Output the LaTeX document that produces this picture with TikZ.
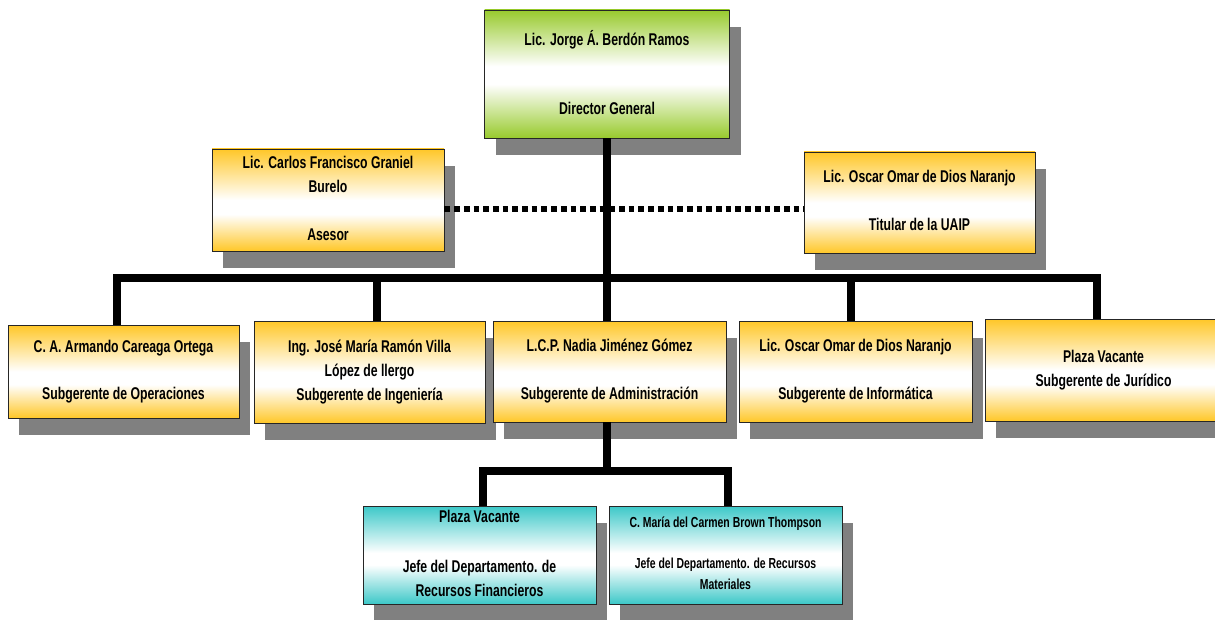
\documentclass[tikz,border=0pt]{standalone}
\usepackage{fontspec}
\setmainfont{Liberation Sans}[FakeStretch=0.72]
\usepackage{tikz}
\usetikzlibrary{shadows}
\definecolor{orgyellow}{RGB}{255,199,40}
\definecolor{orggreen}{RGB}{152,202,45}
\definecolor{orgteal}{RGB}{60,200,200}
\pgfdeclareverticalshading{yellowfade}{100bp}{color(0bp)=(orgyellow); color(25bp)=(orgyellow); color(43bp)=(white); color(50bp)=(white); color(75bp)=(orgyellow); color(100bp)=(orgyellow)}
\pgfdeclareverticalshading{greenfade}{100bp}{color(0bp)=(orggreen); color(25bp)=(orggreen); color(46bp)=(white); color(53bp)=(white); color(75bp)=(orggreen); color(100bp)=(orggreen)}
\pgfdeclareverticalshading{tealfade}{100bp}{color(0bp)=(orgteal); color(25bp)=(orgteal); color(45bp)=(white); color(51bp)=(white); color(75bp)=(orgteal); color(100bp)=(orgteal)}
\tikzset{
    orgbox/.style={draw=black!85, line width=0.8pt, inner sep=0pt, align=center,
        font=\bfseries\fontsize{17}{24}\selectfont, shading=yellowfade,
        drop shadow={shadow xshift=11pt, shadow yshift=-17pt, fill=black!50, opacity=1},
        execute at begin node={\rule[-4pt]{0pt}{17pt}},
        execute at end node={\rule[-4pt]{0pt}{17pt}}},
    link/.style={line width=7.5pt, line join=miter},
    dotline/.style={line width=6.5pt, dash pattern=on 5.7pt off 4pt}
}
\begin{document}
\begin{tikzpicture}[x=1pt, y=-1pt]
    \useasboundingbox (0, 0) rectangle (1215, 620);
    \node[orgbox, shading=greenfade, minimum width=245pt, minimum height=128pt] (dir) at (607, 74)
        {Lic. Jorge Á. Berdón Ramos\\[45pt]Director General};
    \node[orgbox, minimum width=232pt, minimum height=102pt] (ase) at (328, 200)
        {Lic. Carlos Francisco Graniel\\Burelo\\[24pt]Asesor};
    \node[orgbox, minimum width=231pt, minimum height=101pt] (uaip) at (919.5, 202.5)
        {Lic. Oscar Omar de Dios Naranjo\\[24pt]Titular de la UAIP};
    \node[orgbox, minimum width=231pt, minimum height=93pt] (ope) at (123.5, 371.5)
        {C. A. Armando Careaga Ortega\\[23pt]Subgerente de Operaciones};
    \node[orgbox, minimum width=231pt, minimum height=102pt] (ing) at (369.5, 372)
        {Ing. José María Ramón Villa\\López de llergo\\Subgerente de Ingeniería};
    \node[orgbox, minimum width=233pt, minimum height=101pt] (adm) at (609.5, 371.5)
        {L.C.P. Nadia Jiménez Gómez\\[24pt]Subgerente de Administración};
    \node[orgbox, minimum width=233pt, minimum height=101pt] (inf) at (855.5, 371.5)
        {Lic. Oscar Omar de Dios Naranjo\\[24pt]Subgerente de Informática};
    \node[orgbox, minimum width=237pt, minimum height=102pt] (jur) at (1103.5, 370)
        {Plaza Vacante\\Subgerente de Jurídico};
    \node[orgbox, shading=tealfade, minimum width=233pt, minimum height=98pt] (fin) at (479.5, 555)
        {Plaza Vacante\\[26pt]Jefe del Departamento. de\\Recursos Financieros};
    \node[orgbox, shading=tealfade, font=\bfseries\fontsize{14.5}{20.5}\selectfont,
        minimum width=233pt, minimum height=98pt] (mat) at (725.5, 555)
        {C. María del Carmen Brown Thompson\\[21pt]Jefe del Departamento. de Recursos\\Materiales};
    \coordinate (bus) at (607, 278);
    \coordinate (sub) at (607, 471);
    \draw[link] (dir.south) -- (dir.south |- adm.north);
    \draw[link] ([xshift=-6.5pt]ope.north) |- (bus) -| ([xshift=-6.5pt]jur.north);
    \draw[link] ([xshift=7.5pt]ing.north) |- (bus);
    \draw[link] ([xshift=-4.5pt]inf.north) |- (bus);
    \draw[link] (dir.south |- adm.south) -- (sub);
    \draw[link] ([xshift=3.5pt]fin.north) |- (sub) -| ([xshift=2.5pt]mat.north);
    \draw[dotline] ([yshift=-9pt]ase.east) -- ([yshift=-9pt]ase.east -| uaip.west);
\end{tikzpicture}
\end{document}
